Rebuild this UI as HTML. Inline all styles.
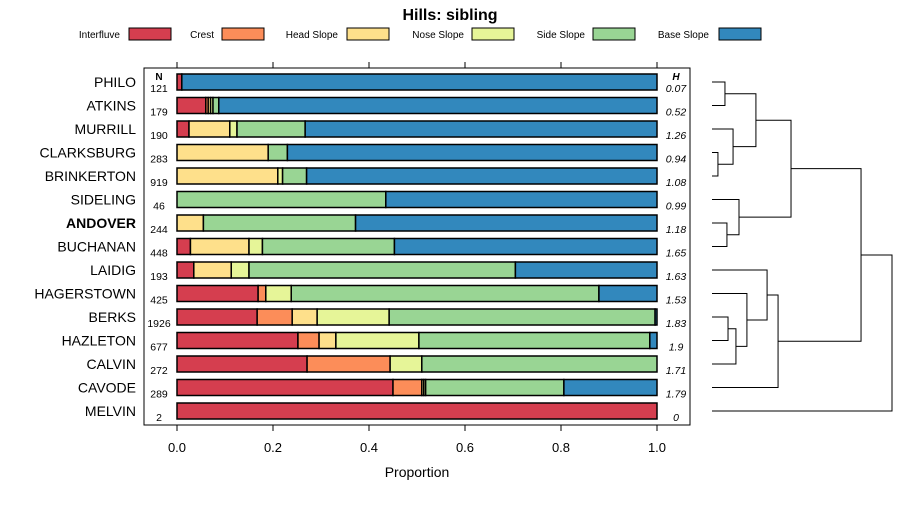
<!DOCTYPE html>
<html><head><meta charset="utf-8"><style>
body{margin:0;background:#fff;font-family:"Liberation Sans",sans-serif}
</style></head><body>
<svg id="c" width="900" height="500" xmlns="http://www.w3.org/2000/svg" font-family="Liberation Sans, sans-serif"></svg>
<script>
const categories=["PHILO","ATKINS","MURRILL","CLARKSBURG","BRINKERTON","SIDELING","ANDOVER","BUCHANAN","LAIDIG","HAGERSTOWN","BERKS","HAZLETON","CALVIN","CAVODE","MELVIN"];
const seriesNames=["Interfluve","Crest","Head Slope","Nose Slope","Side Slope","Base Slope"];
const interfluve=[0.01,0.06,0.025,0,0,0,0,0.028,0.035,0.169,0.167,0.252,0.271,0.45,1];
const crest=[0,0.005,0,0,0,0,0,0,0,0.016,0.073,0.044,0.173,0.06,0];
const headSlope=[0,0.005,0.085,0.19,0.21,0,0.055,0.122,0.078,0,0.052,0.035,0,0.004,0];
const noseSlope=[0,0.005,0.015,0,0.01,0,0,0.028,0.037,0.053,0.15,0.173,0.066,0.004,0];
const sideSlope=[0,0.012,0.142,0.04,0.05,0.435,0.317,0.275,0.555,0.641,0.554,0.481,0.49,0.288,0];
const baseSlope=[0.99,0.913,0.733,0.77,0.73,0.565,0.628,0.547,0.295,0.121,0.004,0.015,0,0.194,0];
const nValues=["121","179","190","283","919","46","244","448","193","425","1926","677","272","289","2"];
const hValues=["0.07","0.52","1.26","0.94","1.08","0.99","1.18","1.65","1.63","1.53","1.83","1.9","1.71","1.79","0"];
const xTicks=[0,0.2,0.4,0.6,0.8,1.0];
const xTickLabels=["0.0","0.2","0.4","0.6","0.8","1.0"];
// dendrogram merges: [left, right, height]; negative = leaf index (-(i+1)), positive = merge index (1-based)
const merges=[[-1,-2,0.072],[-4,-5,0.033],[-3,2,0.117],[1,3,0.244],[-7,-8,0.083],[-6,5,0.15],[4,6,0.439],[-11,-12,0.089],[8,-13,0.133],[-10,9,0.194],[-9,10,0.306],[11,-14,0.367],[7,12,0.828],[13,-15,1.0]];
const colors=["#D53E4F","#FC8D59","#FEE08B","#E6F598","#99D594","#3288BD"];
const series=[interfluve,crest,headSlope,noseSlope,sideSlope,baseSlope];
const svg=document.getElementById('c');const NS="http://www.w3.org/2000/svg";
function el(t,a,p){const e=document.createElementNS(NS,t);for(const k in a)e.setAttribute(k,a[k]);(p||svg).appendChild(e);return e;}
const x=v=>177+v*480;
const y=i=>82+i*23.5;
const dx=h=>712+h*180;
let t=el('text',{x:450,y:20,'text-anchor':'middle','font-size':16,'font-weight':'bold'});t.textContent="Hills: sibling";


const lx=[[120,129],[214,222],[338,347],[464,472],[585,593],[709,719]];
seriesNames.forEach((n,k)=>{
 const g=el('g',{});
 
 
 const tt=el('text',{x:lx[k][0],y:38,'text-anchor':'end','font-size':10},g);tt.textContent=n;
 el('rect',{x:lx[k][1],y:28,width:42,height:12,fill:colors[k],stroke:'#000','stroke-width':1},g);
});
const frame=el('rect',{x:144,y:68,width:546,height:357,fill:'none',stroke:'#000','stroke-width':1});


xTicks.forEach((v,k)=>{
 el('line',{x1:x(v),x2:x(v),y1:62,y2:68,stroke:'#000'});
 el('line',{x1:x(v),x2:x(v),y1:425,y2:431,stroke:'#000'});
 const tl=el('text',{x:x(v),y:452,'text-anchor':'middle','font-size':13});tl.textContent=xTickLabels[k];
 
 
});
let xt=el('text',{x:417,y:477,'text-anchor':'middle','font-size':14});xt.textContent="Proportion";


let nh=el('text',{x:159,y:80,'text-anchor':'middle','font-size':10,'font-weight':'bold'});nh.textContent="N";
let hh=el('text',{x:676,y:80,'text-anchor':'middle','font-size':10,'font-weight':'bold','font-style':'italic'});hh.textContent="H";
categories.forEach((c,i)=>{
 const yc=y(i);
 const lab=el('text',{x:136,y:yc+5,'text-anchor':'end','font-size':14,'font-weight':c==="ANDOVER"?'bold':'normal'});lab.textContent=c;
 
 
 const nl=el('text',{x:159,y:yc+10,'text-anchor':'middle','font-size':10.5});nl.textContent=nValues[i];
 
 
 const hl=el('text',{x:676,y:yc+10,'text-anchor':'middle','font-size':10.5,'font-style':'italic'});hl.textContent=hValues[i];
 
 
 let cum=0;
 series.forEach((s,k)=>{
  const v=s[i];if(v<=0)return;
  const r=el('rect',{x:x(cum),y:yc-8,width:v*480,height:16,fill:colors[k],stroke:'#000','stroke-width':1.5});
  
  
  cum+=v;
 });
});
// dendrogram
const pos=[];
function nodeInfo(id){if(id<0)return{yy:y(-id-1),h:0};return pos[id-1];}
merges.forEach(m=>{
 const a=nodeInfo(m[0]),b=nodeInfo(m[1]);const hx=dx(m[2]);
 const p=el('path',{d:`M${dx(a.h)},${a.yy}H${hx}V${b.yy}H${dx(b.h)}`,fill:'none',stroke:'#000','stroke-width':1});
 
 
 pos.push({yy:(a.yy+b.yy)/2,h:m[2]});
});
</script>
</body></html>
